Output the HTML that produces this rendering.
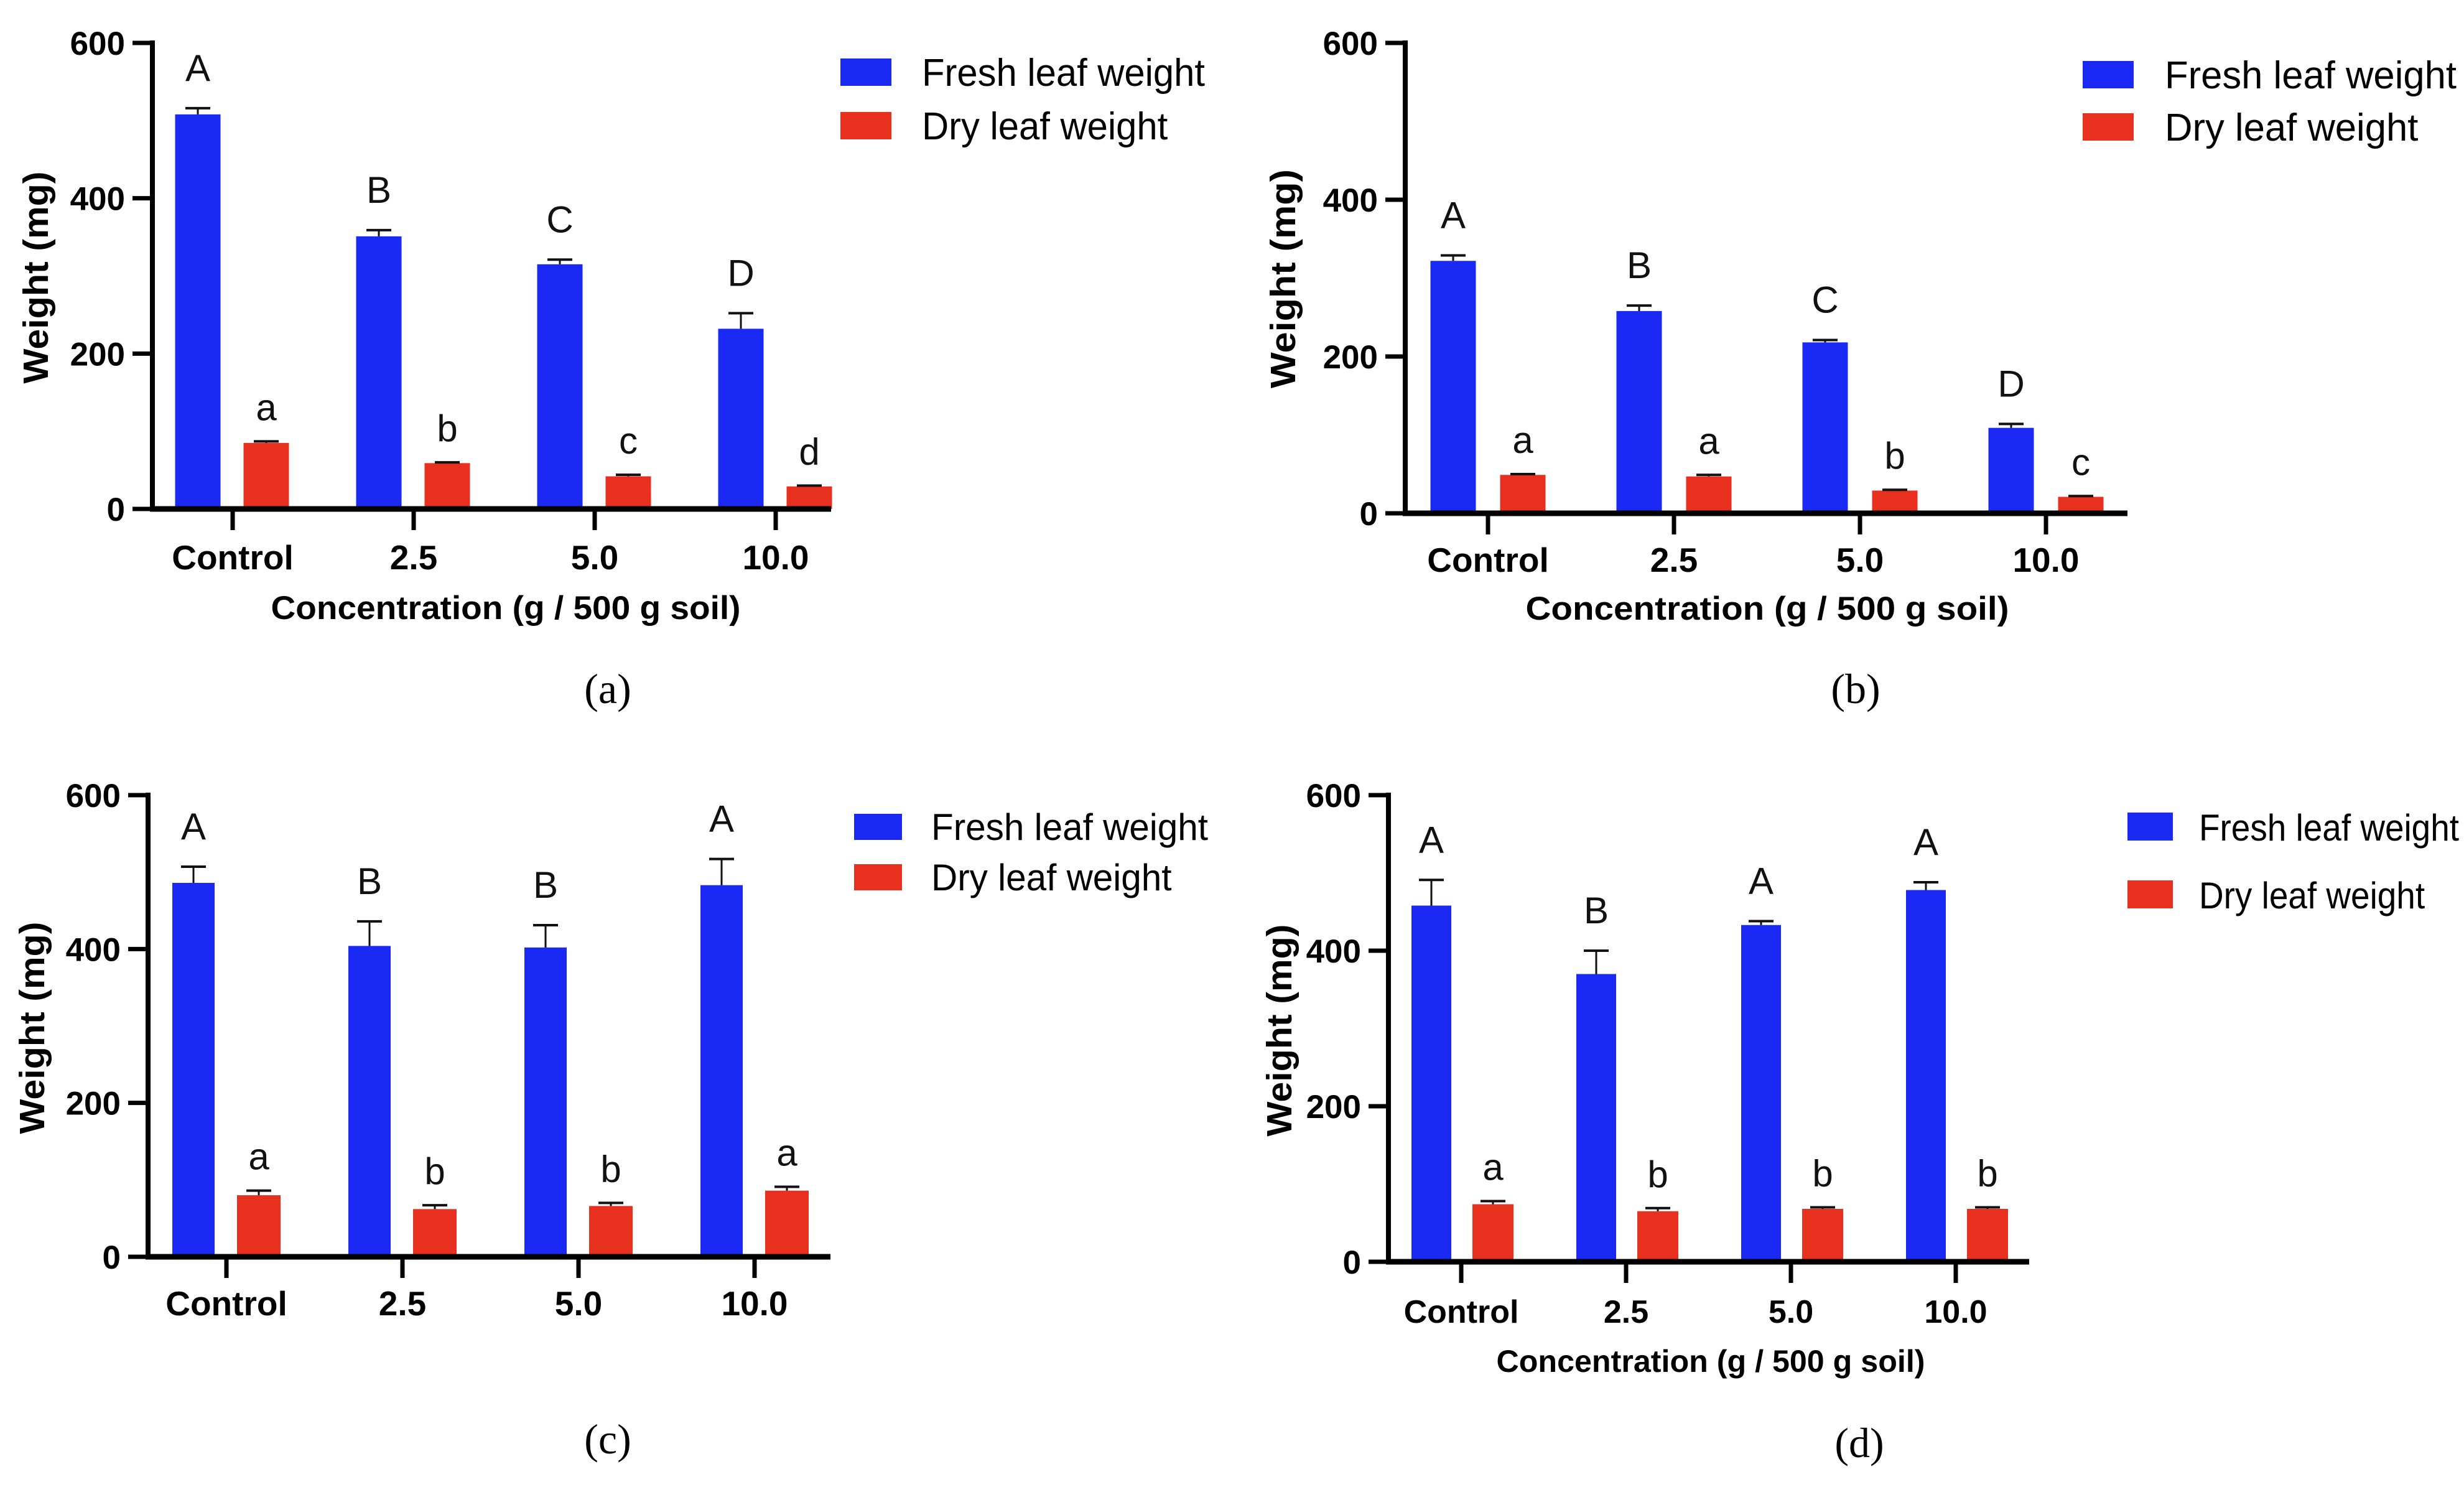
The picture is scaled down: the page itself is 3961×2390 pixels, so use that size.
<!DOCTYPE html>
<html><head><meta charset="utf-8"><style>
html,body{margin:0;padding:0;background:#fff;}
svg{display:block;}
text{font-family:"Liberation Sans",Arial,sans-serif;}
</style></head><body>
<svg id="fig" xmlns="http://www.w3.org/2000/svg" width="3961" height="2390" viewBox="0 0 3961 2390"></svg>
<script>
// ---- data ----
const categories = ["Control", "2.5", "5.0", "10.0"];
const yTicks = [0, 200, 400, 600];
const seriesNames = ["Fresh leaf weight", "Dry leaf weight"];

const freshA = [508, 351, 315, 232];
const freshErrA = [8, 8, 6, 20];
const dryA = [85, 59, 42, 29];
const dryErrA = [2, 1, 2, 1];
const freshLetA = ["A", "B", "C", "D"];
const dryLetA = ["a", "b", "c", "d"];

const freshB = [322, 258, 218, 109];
const freshErrB = [7, 7, 3, 5];
const dryB = [49, 47, 29, 21];
const dryErrB = [1, 2, 1, 1];
const freshLetB = ["A", "B", "C", "D"];
const dryLetB = ["a", "a", "b", "c"];

const freshC = [486, 404, 402, 483];
const freshErrC = [21, 32, 29, 34];
const dryC = [80, 62, 66, 86];
const dryErrC = [6, 5, 4, 5];
const freshLetC = ["A", "B", "B", "A"];
const dryLetC = ["a", "b", "b", "a"];

const freshD = [458, 370, 433, 478];
const freshErrD = [33, 30, 5, 10];
const dryD = [74, 65, 68, 68];
const dryErrD = [4, 4, 2, 2];
const freshLetD = ["A", "B", "A", "A"];
const dryLetD = ["a", "b", "b", "b"];

const NS = "http://www.w3.org/2000/svg";
const svg = document.getElementById("fig");
function mk(tag, attrs, parent) {
  const e = document.createElementNS(NS, tag);
  for (const k in attrs) e.setAttribute(k, attrs[k]);
  (parent || svg).appendChild(e);
  return e;
}
const BLUE = "#1a2af4", RED = "#e8301f";

const panels = [
  {id:"a", ax:245, y0:818, y600:69, xEnd:1336, t0:374, dx:291, fo:-56, fw:73, dO:54, dw:73,
   fresh:freshA, fe:freshErrA, dry:dryA, de:dryErrA, fl:freshLetA, dl:dryLetA,
   lbx:1351, lbw:82, lb1:94, lb2:180, lbh:44, ltx:1482, ltw:455, lfs:62,
   ytx:77, yty:446, ytl:341, xlb:915, xlfs:55, xt:{cx:813, w:755, y:995, fs:53}, pl:{cx:977, y:1130}},
  {id:"b", ax:2259, y0:825, y600:69, xEnd:3420, t0:2392, dx:299, fo:-56, fw:73, dO:56, dw:73,
   fresh:freshB, fe:freshErrB, dry:dryB, de:dryErrB, fl:freshLetB, dl:dryLetB,
   lbx:3348, lbw:82, lb1:98, lb2:182, lbh:44, ltx:3480, ltw:469, lfs:62,
   ytx:2082, yty:448, ytl:352, xlb:919, xlfs:55, xt:{cx:2841, w:777, y:996, fs:53}, pl:{cx:2983, y:1130}},
  {id:"c", ax:238, y0:2020, y600:1278, xEnd:1335, t0:364, dx:283, fo:-53, fw:68, dO:52, dw:70,
   fresh:freshC, fe:freshErrC, dry:dryC, de:dryErrC, fl:freshLetC, dl:dryLetC,
   lbx:1373, lbw:77, lb1:1308, lb2:1389, lbh:42, ltx:1497, ltw:445, lfs:60,
   ytx:71, yty:1652, ytl:341, xlb:2114, xlfs:55, xt:null, pl:{cx:977, y:2336}},
  {id:"d", ax:2232, y0:2028, y600:1278, xEnd:3262, t0:2349, dx:265, fo:-48, fw:64, dO:51, dw:66,
   fresh:freshD, fe:freshErrD, dry:dryD, de:dryErrD, fl:freshLetD, dl:dryLetD,
   lbx:3420, lbw:73, lb1:1306, lb2:1415, lbh:45, ltx:3535, ltw:418, lfs:60,
   ytx:2076, yty:1656, ytl:341, xlb:2126, xlfs:52, xt:{cx:2750, w:689, y:2205, fs:50}, pl:{cx:2989, y:2342}}
];

panels.forEach(p => {
  const g = mk("g", {});
  
  
  const yS = v => p.y0 + (p.y600 - p.y0) * v / 600;
  const xS = i => p.t0 + i * p.dx;

  const series = [
    {vals:p.fresh, errs:p.fe, lets:p.fl, off:p.fo, w:p.fw, col:BLUE, nm:"fresh", gap:44},
    {vals:p.dry, errs:p.de, lets:p.dl, off:p.dO, w:p.dw, col:RED, nm:"dry", gap:34}
  ];
  series.forEach(s => {
    s.vals.forEach((v, i) => {
      const cx = xS(i) + s.off;
      const top = yS(v), et = yS(v + s.errs[i]);
      const r = mk("rect", {x:cx - s.w/2, y:top, width:s.w, height:p.y0 - top, fill:s.col}, g);
      
      
      const el = mk("line", {x1:cx, x2:cx, y1:top, y2:et, stroke:"#111", "stroke-width":3}, g);
      
      
      const cap = mk("line", {x1:cx - 20, x2:cx + 20, y1:et, y2:et, stroke:"#111", "stroke-width":4}, g);
      
      
      const t = mk("text", {x:cx, y:et - s.gap, "font-size":60, "text-anchor":"middle", fill:"#111"}, g);
      t.textContent = s.lets[i];
      
      
    });
  });

  const yAx = mk("line", {x1:p.ax, x2:p.ax, y1:p.y600 - 4, y2:p.y0 + 4, stroke:"#000", "stroke-width":8}, g);
  
  
  const xAx = mk("line", {x1:p.ax - 4, x2:p.xEnd, y1:p.y0, y2:p.y0, stroke:"#000", "stroke-width":9}, g);
  
  

  yTicks.forEach(v => {
    const y = yS(v);
    const tk = mk("line", {x1:p.ax - 32, x2:p.ax, y1:y, y2:y, stroke:"#000", "stroke-width":7}, g);
    
    
    const tl = mk("text", {x:p.ax - 44, y:y + 19, "font-size":53, "font-weight":"bold", "text-anchor":"end", fill:"#000"}, g);
    tl.textContent = v;
    
    
  });

  categories.forEach((c, i) => {
    const x = xS(i);
    const tk = mk("line", {x1:x, x2:x, y1:p.y0, y2:p.y0 + 34, stroke:"#000", "stroke-width":7}, g);
    
    
    const tl = mk("text", {x:x, y:p.xlb, "font-size":p.xlfs, "font-weight":"bold", "text-anchor":"middle", fill:"#000"}, g);
    tl.textContent = c;
    
    
  });

  const yt = mk("text", {x:0, y:0, "font-size":57, "font-weight":"bold", "text-anchor":"middle", fill:"#000",
    transform:`translate(${p.ytx},${p.yty}) rotate(-90)`, textLength:p.ytl, lengthAdjust:"spacingAndGlyphs"}, g);
  yt.textContent = "Weight (mg)";
  
  

  if (p.xt) {
    const xt = mk("text", {x:p.xt.cx, y:p.xt.y, "font-size":p.xt.fs, "font-weight":"bold", "text-anchor":"middle", fill:"#000",
      textLength:p.xt.w, lengthAdjust:"spacingAndGlyphs"}, g);
    xt.textContent = "Concentration (g / 500 g soil)";
    
    
  }

  [[p.lb1, BLUE, seriesNames[0], p.ltw], [p.lb2, RED, seriesNames[1], p.ltw * 0.8686]].forEach((L, k) => {
    const sw = mk("rect", {x:p.lbx, y:L[0], width:p.lbw, height:p.lbh, fill:L[1]}, g);
    
    
    const lt = mk("text", {x:p.ltx, y:L[0] + p.lbh, "font-size":p.lfs, fill:"#000", textLength:L[3], lengthAdjust:"spacingAndGlyphs"}, g);
    lt.textContent = L[2];
    
    
  });

  const pl = mk("text", {x:p.pl.cx, y:p.pl.y, "font-size":68, "text-anchor":"middle", fill:"#000",
    style:'font-family:"Liberation Serif",serif'}, g);
  pl.textContent = "(" + p.id + ")";
  
  
});
</script>
</body></html>
